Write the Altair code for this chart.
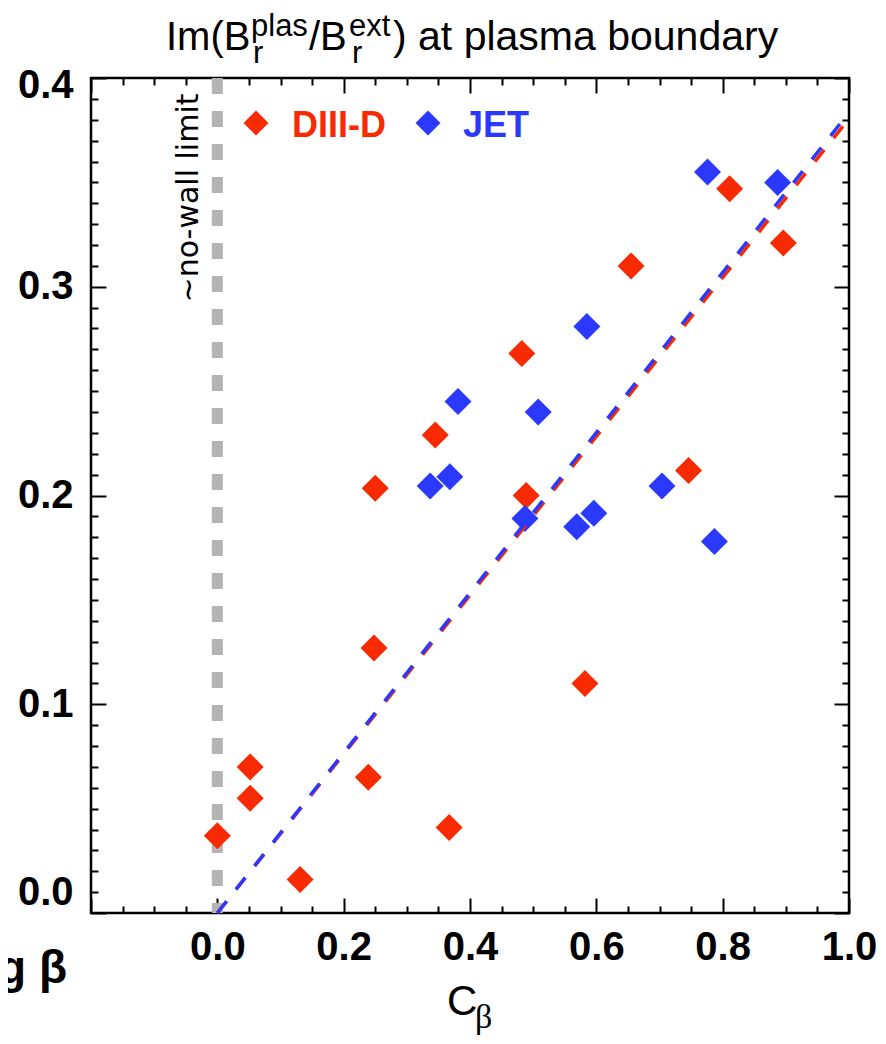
import altair as alt
import pandas as pd

# ---------------- data ----------------
diiid_x = [0.0, 0.052, 0.052, 0.131, 0.239, 0.367, 0.248, 0.250, 0.345, 0.482,
           0.489, 0.582, 0.746, 0.655, 0.811, 0.896]
diiid_y = [0.037, 0.070, 0.055, 0.016, 0.065, 0.041, 0.127, 0.2035, 0.229, 0.268,
           0.200, 0.110, 0.212, 0.310, 0.347, 0.321]

jet_x = [0.776, 0.887, 0.585, 0.381, 0.508, 0.337, 0.368, 0.487, 0.569, 0.596,
         0.704, 0.787]
jet_y = [0.355, 0.350, 0.281, 0.245, 0.240, 0.2045, 0.209, 0.189, 0.185, 0.1915,
         0.2045, 0.178]

fit_x = [0.0, 1.0]
diiid_fit_y = [0.0, 0.3805]
jet_fit_y = [0.0, 0.3835]

nowall_x = [0.0]
nowall_top = [0.4]
nowall_bottom = [0.0]

x_label_values = [0.0, 0.2, 0.4, 0.6, 0.8, 1.0]
y_label_values = [0.01, 0.1, 0.2, 0.3, 0.4]
x_tick_values = [-0.2, -0.15, -0.1, -0.05, 0.0, 0.05, 0.1, 0.15, 0.2, 0.25, 0.3,
                 0.35, 0.4, 0.45, 0.5, 0.55, 0.6, 0.65, 0.7, 0.75, 0.8, 0.85,
                 0.9, 0.95, 1.0]
y_tick_values = [round(0.01 * i, 2) for i in range(41)]

# ---------------- style ----------------
W, H = 758, 835
RED = "#f72a02"
BLUE = "#2b39fd"
GRAY = "#b4b4b4"
FONT = "Liberation Sans"

xs = alt.Scale(domain=[-0.2, 1.0], nice=False, zero=False)
ys = alt.Scale(domain=[0.0, 0.4], nice=False, zero=False)

label_x_axis = alt.Axis(orient="bottom", values=x_label_values, format=".1f",
                        labelFlush=False, labelOverlap=False, labelFont=FONT,
                        labelFontSize=40, labelFontWeight="bold", labelColor="black",
                        labelPadding=14, ticks=False, tickSize=0, domain=False,
                        grid=False, title=None)
label_y_axis = alt.Axis(orient="left", values=y_label_values,
                        labelExpr="datum.value < 0.05 ? '0.0' : format(datum.value, '.1f')",
                        labelOffset={"condition": {"test": "datum.value > 0.35", "value": 7},
                                     "value": 0},
                        labelOverlap=False, labelFont=FONT, labelFontSize=40,
                        labelFontWeight="bold", labelColor="black", labelPadding=18,
                        ticks=False, tickSize=0, domain=False, grid=False, title=None)

major_x = "abs(datum.value / 0.2 - round(datum.value / 0.2)) < 0.001"
major_y = "abs(datum.value * 10 - round(datum.value * 10)) < 0.001"


def tick_axis(orient, offset, values, test):
    return alt.Axis(orient=orient, offset=offset, values=values, labels=False,
                    domain=False, grid=False, ticks=True, tickColor="black",
                    tickWidth=2,
                    tickSize={"condition": {"test": test, "value": 15}, "value": 7},
                    title=None)


red_df = pd.DataFrame({"x": diiid_x, "y": diiid_y})
blue_df = pd.DataFrame({"x": jet_x, "y": jet_y})
red_fit_df = pd.DataFrame({"x": fit_x, "y": diiid_fit_y})
blue_fit_df = pd.DataFrame({"x": fit_x, "y": jet_fit_y})
nowall_df = pd.DataFrame({"x": nowall_x, "y": nowall_top, "y2": nowall_bottom})

nowall = alt.Chart(nowall_df).mark_rule(
    color=GRAY, strokeWidth=11, strokeDash=[16, 17], strokeCap="butt"
).encode(
    x=alt.X("x:Q", scale=xs, axis=None),
    y=alt.Y("y:Q", scale=ys, axis=None),
    y2="y2:Q",
)

red_pts = alt.Chart(red_df).mark_point(
    shape="diamond", filled=True, size=729, color=RED, opacity=1
).encode(
    x=alt.X("x:Q", scale=xs, axis=label_x_axis),
    y=alt.Y("y:Q", scale=ys, axis=label_y_axis),
)

blue_pts = alt.Chart(blue_df).mark_point(
    shape="diamond", filled=True, size=729, color=BLUE, opacity=1
).encode(
    x=alt.X("x:Q", scale=xs, axis=tick_axis("top", -H, x_tick_values, major_x)),
    y=alt.Y("y:Q", scale=ys, axis=tick_axis("right", -W, y_tick_values, major_y)),
)

red_fit = alt.Chart(red_fit_df).mark_line(
    color=RED, strokeWidth=3.5, strokeDash=[15, 15], strokeCap="butt"
).encode(
    x=alt.X("x:Q", scale=xs, axis=tick_axis("bottom", -H, x_tick_values, major_x)),
    y=alt.Y("y:Q", scale=ys, axis=tick_axis("left", -W, y_tick_values, major_y)),
)

blue_fit = alt.Chart(blue_fit_df).mark_line(
    color=BLUE, strokeWidth=3.5, strokeDash=[15, 15], strokeCap="butt"
).encode(
    x=alt.X("x:Q", scale=xs, axis=None),
    y=alt.Y("y:Q", scale=ys, axis=None),
)


def txt(s, x, y, size, color="black", weight="normal", font=FONT,
        align="left", angle=0, baseline="alphabetic"):
    return alt.Chart(pd.DataFrame({"t": [s]})).mark_text(
        align=align, baseline=baseline, fontSize=size, fontWeight=weight,
        font=font, color=color, angle=angle
    ).encode(x=alt.value(x), y=alt.value(y), text="t:N")


def legend_symbol(color, x, y):
    return alt.Chart(pd.DataFrame({"t": [0]})).mark_point(
        shape="diamond", filled=True, size=625, color=color, opacity=1
    ).encode(x=alt.value(x), y=alt.value(y))


texts = [
    # title with sub/superscripts (page x minus 91, page y minus 78)
    txt("Im(B", 75, -28, 40),
    txt("plas", 160, -42, 31),
    txt("r", 162, -15, 31),
    txt("/B", 218, -28, 40),
    txt("ext", 258, -42, 31),
    txt("r", 261, -15, 31),
    txt(") at plasma boundary", 302, -28, 41),
    # no-wall annotation
    txt("~no-wall limit", 107, 120, 30, font="DejaVu Sans", align="center", angle=270),
    # legend
    txt("DIII-D", 201, 59, 36, color=RED, weight="bold"),
    txt("JET", 372, 59, 36, color=BLUE, weight="bold"),
    # x title
    txt("C", 356, 937, 42),
    txt("\u03b2", 384, 950, 34, font="Liberation Serif"),
    # cut-off fragment at the bottom left
    txt("g \u03b2", -24, 905, 46, weight="bold", align="right"),
]

chart = alt.layer(
    nowall, red_pts, blue_pts, red_fit, blue_fit,
    legend_symbol(RED, 165, 45), legend_symbol(BLUE, 337, 45),
    *texts,
).resolve_axis(
    x="independent", y="independent"
).properties(
    width=W, height=H,
    padding={"left": 83, "top": 70, "right": 29, "bottom": 123},
    autosize=alt.AutoSizeParams(type="none"),
    background="white",
).configure_view(
    stroke="black", strokeWidth=2.5
)

chart.save("out.html", embed_options={"renderer": "svg", "actions": False})
